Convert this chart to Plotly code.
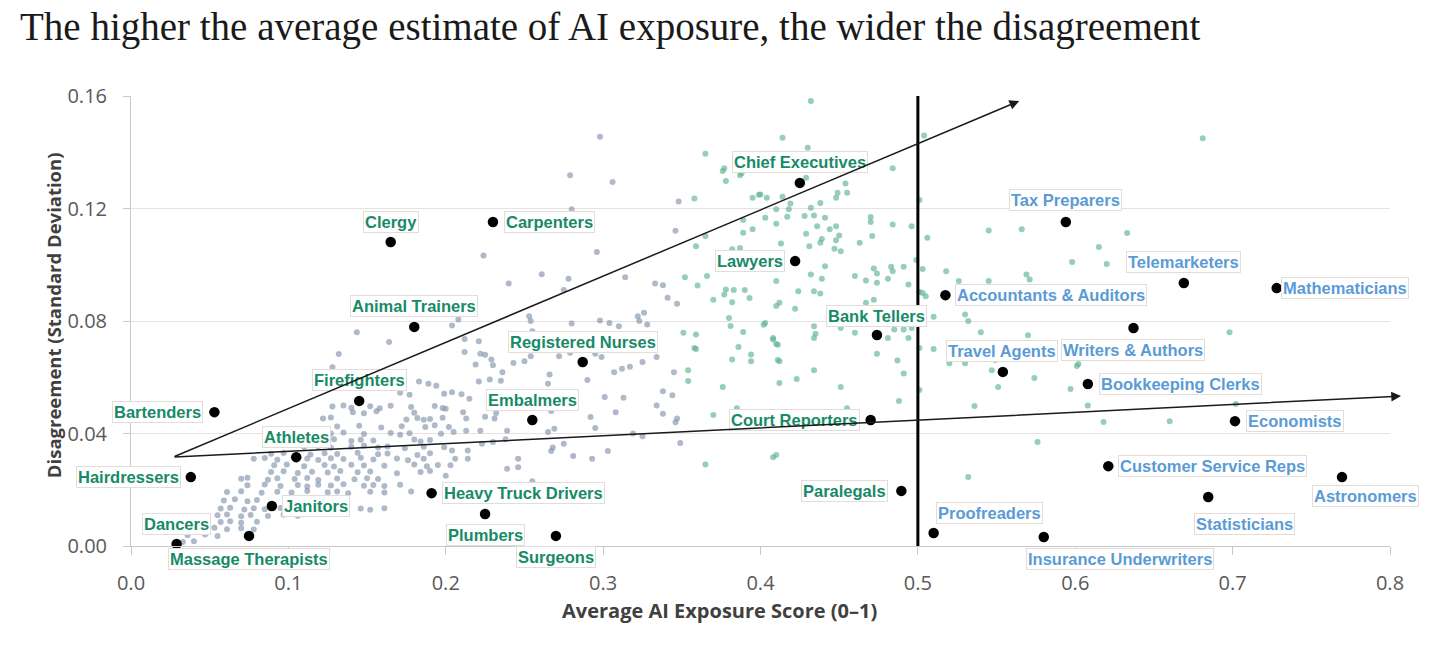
#!/usr/bin/env python3
# -*- coding: utf-8 -*-
"""AI exposure vs. disagreement scatter - plotly rebuild."""

import plotly.graph_objects as go

# === DATA ===
# occupations that get a black dot + label
occupations = [
    "Dancers", "Massage Therapists", "Hairdressers", "Janitors", "Athletes",
    "Bartenders", "Firefighters", "Animal Trainers", "Clergy", "Carpenters",
    "Heavy Truck Drivers", "Plumbers", "Surgeons", "Embalmers", "Registered Nurses",
    "Chief Executives", "Lawyers", "Bank Tellers", "Court Reporters", "Paralegals",
    "Proofreaders", "Insurance Underwriters", "Accountants & Auditors", "Tax Preparers",
    "Travel Agents", "Writers & Authors", "Telemarketers", "Mathematicians",
    "Bookkeeping Clerks", "Economists", "Customer Service Reps", "Statisticians",
    "Astronomers",
]
occ_exposure = [
    0.029, 0.075, 0.038, 0.0895, 0.105,
    0.053, 0.145, 0.180, 0.165, 0.230,
    0.191, 0.225, 0.270, 0.255, 0.287,
    0.425, 0.422, 0.474, 0.470, 0.4895,
    0.510, 0.580, 0.5175, 0.594,
    0.554, 0.637, 0.669, 0.728,
    0.608, 0.7015, 0.621, 0.6845,
    0.7695,
]
occ_disagreement = [
    0.0007, 0.0036, 0.0245, 0.0142, 0.0316,
    0.0476, 0.0516, 0.0779, 0.1081, 0.1152,
    0.0188, 0.0114, 0.0036, 0.0448, 0.0654,
    0.1291, 0.1013, 0.0750, 0.0448, 0.0196,
    0.0046, 0.0032, 0.0892, 0.1152,
    0.0619, 0.0775, 0.0935, 0.0917,
    0.0576, 0.0444, 0.0284, 0.0174,
    0.0245,
]

# all other occupations, low exposure group (x, y)
gray_points = [
    # x 0.0 - 0.2, y 0 - 0.06
    [0.183, 0.0585], [0.189, 0.0577], [0.194, 0.0570],
    [0.171, 0.0545], [0.177, 0.0538], [0.199, 0.0541],
    [0.128, 0.0496], [0.135, 0.0500], [0.140, 0.0492], [0.152, 0.0497], [0.158, 0.0490],
    [0.165, 0.0499], [0.178, 0.0494], [0.193, 0.0498], [0.198, 0.0491],
    [0.141, 0.0476], [0.148, 0.0472], [0.156, 0.0479], [0.180, 0.0474],
    [0.122, 0.0453], [0.127, 0.0457], [0.175, 0.0450], [0.182, 0.0455], [0.186, 0.0449],
    [0.190, 0.0452], [0.198, 0.0456],
    [0.131, 0.0425], [0.145, 0.0428], [0.159, 0.0421], [0.172, 0.0426], [0.187, 0.0423],
    [0.193, 0.0429],
    [0.127, 0.0400], [0.135, 0.0404], [0.148, 0.0398], [0.165, 0.0402], [0.171, 0.0396],
    [0.177, 0.0401], [0.197, 0.0399],
    [0.121, 0.0376], [0.129, 0.0380], [0.140, 0.0373], [0.146, 0.0378], [0.154, 0.0375],
    [0.180, 0.0379], [0.184, 0.0372], [0.190, 0.0377],
    [0.110, 0.0352], [0.119, 0.0355], [0.127, 0.0349], [0.140, 0.0353], [0.148, 0.0357],
    [0.157, 0.0350], [0.163, 0.0354], [0.174, 0.0348], [0.186, 0.0353], [0.199, 0.0351],
    [0.089, 0.0328], [0.097, 0.0331], [0.114, 0.0325], [0.123, 0.0330], [0.131, 0.0327],
    [0.144, 0.0332], [0.157, 0.0326], [0.163, 0.0329], [0.182, 0.0324], [0.190, 0.0330],
    [0.078, 0.0310], [0.085, 0.0313], [0.093, 0.0307], [0.112, 0.0311], [0.119, 0.0306],
    [0.127, 0.0312], [0.135, 0.0309], [0.146, 0.0314], [0.154, 0.0308], [0.169, 0.0311],
    [0.176, 0.0305], [0.186, 0.0310],
    [0.091, 0.0287], [0.099, 0.0290], [0.110, 0.0284], [0.123, 0.0288], [0.129, 0.0283],
    [0.140, 0.0289], [0.148, 0.0286], [0.161, 0.0285], [0.180, 0.0290], [0.188, 0.0284],
    [0.195, 0.0288],
    [0.089, 0.0263], [0.097, 0.0266], [0.106, 0.0260], [0.115, 0.0264], [0.125, 0.0261],
    [0.133, 0.0267], [0.144, 0.0262], [0.152, 0.0265], [0.169, 0.0259], [0.184, 0.0263],
    [0.190, 0.0267],
    [0.070, 0.0239], [0.074, 0.0243], [0.087, 0.0236], [0.093, 0.0241], [0.104, 0.0238],
    [0.112, 0.0242], [0.119, 0.0235], [0.131, 0.0240], [0.142, 0.0237], [0.150, 0.0241],
    [0.157, 0.0238],
    [0.074, 0.0216], [0.085, 0.0219], [0.095, 0.0213], [0.106, 0.0217], [0.112, 0.0212],
    [0.119, 0.0218], [0.127, 0.0215], [0.135, 0.0220], [0.148, 0.0214], [0.154, 0.0217],
    [0.161, 0.0213], [0.171, 0.0218],
    [0.061, 0.0192], [0.070, 0.0195], [0.083, 0.0189], [0.093, 0.0193], [0.102, 0.0190],
    [0.112, 0.0196], [0.125, 0.0191], [0.131, 0.0194], [0.138, 0.0188], [0.152, 0.0193],
    [0.161, 0.0190], [0.178, 0.0194],
    [0.059, 0.0162], [0.066, 0.0166], [0.074, 0.0159], [0.080, 0.0164], [0.102, 0.0161],
    [0.108, 0.0165], [0.116, 0.0160], [0.125, 0.0163], [0.135, 0.0158],
    [0.057, 0.0133], [0.063, 0.0136], [0.072, 0.0130], [0.078, 0.0134], [0.085, 0.0131],
    [0.095, 0.0135], [0.146, 0.0133], [0.152, 0.0129], [0.161, 0.0134],
    [0.055, 0.0109], [0.061, 0.0112], [0.070, 0.0106], [0.076, 0.0110], [0.087, 0.0107],
    [0.097, 0.0111], [0.106, 0.0108],
    [0.057, 0.0085], [0.063, 0.0088], [0.070, 0.0083], [0.080, 0.0086],
    [0.042, 0.0062], [0.053, 0.0065], [0.061, 0.0060], [0.070, 0.0063], [0.078, 0.0059],
    [0.036, 0.0038], [0.047, 0.0041], [0.055, 0.0036],
    [0.033, 0.0014], [0.040, 0.0017],
    # x 0.0 - 0.2, y above 0.06
    [0.1435, 0.0760], [0.164, 0.0725], [0.132, 0.0683], [0.128, 0.0636],
    # x 0.2 - 0.35, y 0 - 0.06
    [0.204, 0.0547], [0.210, 0.0540], [0.215, 0.0524], [0.200, 0.0488], [0.211, 0.0476],
    [0.213, 0.0453], [0.202, 0.0423], [0.205, 0.0405], [0.213, 0.0410], [0.222, 0.0410],
    [0.225, 0.0460], [0.231, 0.0453], [0.232, 0.0473], [0.239, 0.0410], [0.238, 0.0380],
    [0.230, 0.0370], [0.223, 0.0364], [0.204, 0.0340], [0.214, 0.0340], [0.206, 0.0310],
    [0.214, 0.0310], [0.203, 0.0287], [0.246, 0.0310], [0.246, 0.0280], [0.239, 0.0275],
    [0.200, 0.0250], [0.255, 0.0230], [0.265, 0.0405], [0.269, 0.0417], [0.268, 0.0350],
    [0.267, 0.0338], [0.275, 0.0364], [0.281, 0.0320], [0.293, 0.0310], [0.303, 0.0338],
    [0.292, 0.0459], [0.295, 0.0420], [0.301, 0.0530], [0.308, 0.0476], [0.313, 0.0527],
    [0.319, 0.0400], [0.325, 0.0390], [0.338, 0.0550], [0.344, 0.0536], [0.334, 0.0500],
    [0.338, 0.0470], [0.347, 0.0453], [0.346, 0.0440], [0.349, 0.0366], [0.265, 0.0577],
    [0.267, 0.0480], [0.290, 0.0590], [0.221, 0.0585], [0.228, 0.0592], [0.235, 0.0588],
    # x 0.2 - 0.35, y above 0.06
    [0.298, 0.1455], [0.279, 0.1318], [0.306, 0.1294], [0.280, 0.1197], [0.348, 0.1225],
    [0.346, 0.1121], [0.296, 0.1045], [0.224, 0.1033], [0.261, 0.0966], [0.278, 0.0950],
    [0.314, 0.0956], [0.240, 0.0933], [0.275, 0.0910], [0.333, 0.0933], [0.338, 0.0927],
    [0.341, 0.0883], [0.347, 0.0861], [0.204, 0.0784], [0.208, 0.0805], [0.253, 0.0817],
    [0.254, 0.0800], [0.280, 0.0791], [0.298, 0.0802], [0.304, 0.0793], [0.310, 0.0781],
    [0.322, 0.0817], [0.326, 0.0829], [0.323, 0.0800], [0.328, 0.0788], [0.255, 0.0764],
    [0.212, 0.0736], [0.221, 0.0728], [0.212, 0.0690], [0.222, 0.0684], [0.225, 0.0680],
    [0.229, 0.0663], [0.251, 0.0700], [0.254, 0.0675], [0.272, 0.0675], [0.279, 0.0687],
    [0.295, 0.0684], [0.299, 0.0672], [0.243, 0.0651], [0.250, 0.0657], [0.219, 0.0645],
    [0.230, 0.0643], [0.236, 0.0618], [0.266, 0.0610], [0.307, 0.0618], [0.312, 0.0630],
    [0.317, 0.0637], [0.325, 0.0654], [0.334, 0.0672], [0.325, 0.0700], [0.345, 0.0618],
]

# all other occupations, high exposure group (x, y)
green_points = [
    [0.365, 0.1395], [0.376, 0.1333], [0.377, 0.1343], [0.378, 0.1298], [0.387, 0.1318],
    [0.388, 0.1325], [0.358, 0.1236], [0.395, 0.1238], [0.399, 0.1249], [0.389, 0.1159],
    [0.395, 0.1126], [0.389, 0.1114], [0.359, 0.1066], [0.365, 0.1102], [0.382, 0.1055],
    [0.387, 0.1060], [0.352, 0.0956], [0.366, 0.0960], [0.360, 0.0926], [0.378, 0.0912],
    [0.383, 0.0910], [0.377, 0.0894], [0.390, 0.0910], [0.393, 0.0882], [0.370, 0.0876],
    [0.382, 0.0867], [0.380, 0.0811], [0.381, 0.0782], [0.389, 0.0761], [0.351, 0.0758],
    [0.359, 0.0752], [0.358, 0.0704], [0.359, 0.0700], [0.386, 0.0708], [0.382, 0.0663],
    [0.394, 0.0681], [0.394, 0.0657], [0.354, 0.0625], [0.403, 0.0793], [0.408, 0.0740],
    [0.410, 0.0718], [0.411, 0.0661],
    [0.432, 0.1582], [0.414, 0.1452], [0.430, 0.1416], [0.504, 0.1460], [0.484, 0.1343],
    [0.429, 0.1309], [0.454, 0.1289], [0.455, 0.1256], [0.449, 0.1256], [0.448, 0.1238],
    [0.400, 0.1250], [0.404, 0.1238], [0.414, 0.1242], [0.419, 0.1218], [0.410, 0.1197],
    [0.418, 0.1197], [0.432, 0.1203], [0.438, 0.1220], [0.501, 0.1230], [0.403, 0.1167],
    [0.417, 0.1171], [0.428, 0.1173], [0.434, 0.1175], [0.441, 0.1167], [0.410, 0.1146],
    [0.436, 0.1137], [0.444, 0.1126], [0.448, 0.1137], [0.470, 0.1170], [0.470, 0.1152],
    [0.484, 0.1143], [0.496, 0.1137], [0.429, 0.1110], [0.439, 0.1092], [0.450, 0.1104],
    [0.448, 0.1087], [0.471, 0.1102], [0.506, 0.1096], [0.413, 0.1076], [0.431, 0.1066],
    [0.438, 0.1078], [0.447, 0.1057], [0.451, 0.1048], [0.463, 0.1078], [0.441, 0.0995],
    [0.432, 0.0965], [0.472, 0.0987], [0.474, 0.0969], [0.483, 0.0993], [0.484, 0.0977],
    [0.491, 0.0993], [0.503, 0.0985], [0.410, 0.0942], [0.424, 0.0906], [0.434, 0.0906],
    [0.438, 0.0898], [0.439, 0.0950], [0.460, 0.0960], [0.467, 0.0944], [0.474, 0.0936],
    [0.481, 0.0950], [0.494, 0.0930], [0.503, 0.0900], [0.505, 0.0888], [0.410, 0.0853],
    [0.412, 0.0865], [0.422, 0.0844], [0.467, 0.0865], [0.472, 0.0876], [0.518, 0.0977],
    [0.526, 0.0942], [0.545, 0.0942], [0.569, 0.0965], [0.571, 0.0948], [0.545, 0.1122],
    [0.566, 0.1126], [0.530, 0.0823], [0.532, 0.0800], [0.540, 0.0760], [0.570, 0.0749],
    [0.510, 0.0815], [0.402, 0.0787], [0.434, 0.0781], [0.435, 0.0755], [0.434, 0.0740],
    [0.451, 0.0775], [0.460, 0.0758], [0.408, 0.0734], [0.411, 0.0716], [0.481, 0.0740],
    [0.485, 0.0770], [0.491, 0.0770], [0.494, 0.0740], [0.474, 0.0684], [0.487, 0.0660],
    [0.412, 0.0657], [0.434, 0.0625], [0.491, 0.0613], [0.501, 0.0704], [0.510, 0.0700],
    [0.520, 0.0650], [0.530, 0.0650], [0.547, 0.0625], [0.549, 0.0661], [0.496, 0.0775],
    [0.681, 0.1450], [0.633, 0.1113], [0.615, 0.1063], [0.598, 0.1010], [0.620, 0.1003],
    [0.499, 0.1017], [0.501, 0.0903], [0.698, 0.0760], [0.602, 0.0647], [0.601, 0.0640],
    [0.574, 0.0597], [0.551, 0.0565], [0.597, 0.0558], [0.488, 0.0516], [0.536, 0.0498],
    [0.608, 0.0500], [0.702, 0.0505], [0.618, 0.0441], [0.660, 0.0444], [0.576, 0.0370],
    [0.532, 0.0245],
    [0.354, 0.0587], [0.376, 0.0565], [0.412, 0.0580], [0.423, 0.0594], [0.451, 0.0565],
    [0.501, 0.0555], [0.455, 0.0490], [0.385, 0.0490], [0.370, 0.0466], [0.408, 0.0316],
    [0.410, 0.0324], [0.365, 0.0290],
]

# trend arrows: (start x, start y, end x, end y)
arrow_upper = [0.0267, 0.0316, 0.5644, 0.1582]
arrow_lower = [0.0267, 0.0316, 0.807, 0.0533]
threshold = 0.5

# === STYLE ===
GREEN_TXT = "#178a68"
BLUE_TXT = "#5b9bd5"
GRAY_DOT = "rgba(125,143,168,0.62)"
GREEN_DOT = "rgba(95,180,145,0.65)"
LABEL_FONT = "Liberation Sans, Arial, sans-serif"
TICK_FONT = "Open Sans, Liberation Sans, sans-serif"
AXIS_TITLE_COLOR = "#404040"

# label placement: (anchor, x shift px, y shift px downwards)
label_pos = {
    "Dancers": ("center", 0, -20),
    "Massage Therapists": ("center", 0, 23),
    "Hairdressers": ("right", -10, 0),
    "Janitors": ("left", 10, 0),
    "Athletes": ("center", 0, -20),
    "Bartenders": ("right", -11, 0),
    "Firefighters": ("center", 0, -21),
    "Animal Trainers": ("center", 0, -21),
    "Clergy": ("center", 0, -20),
    "Carpenters": ("left", 11, 0),
    "Heavy Truck Drivers": ("left", 10, 0),
    "Plumbers": ("center", 0, 21),
    "Surgeons": ("center", 0, 21),
    "Embalmers": ("center", 0, -20),
    "Registered Nurses": ("center", 0, -20),
    "Chief Executives": ("center", 0, -21),
    "Lawyers": ("right", -10, 0),
    "Bank Tellers": ("center", 0, -19),
    "Court Reporters": ("right", -11, 0),
    "Paralegals": ("right", -13, 0),
    "Proofreaders": ("center", 56, -20),
    "Insurance Underwriters": ("center", 76, 22),
    "Accountants & Auditors": ("left", 10, 0),
    "Tax Preparers": ("center", 0, -22),
    "Travel Agents": ("center", -1, -21),
    "Writers & Authors": ("center", 0, 22),
    "Telemarketers": ("center", 0, -21),
    "Mathematicians": ("left", 4, 0),
    "Bookkeeping Clerks": ("left", 11, 0),
    "Economists": ("left", 11, 0),
    "Customer Service Reps": ("left", 10, 0),
    "Statisticians": ("center", 36, 27),
    "Astronomers": ("center", 23, 19),
}


def main():
    fig = go.Figure()

    fig.add_trace(go.Scatter(
        x=[p[0] for p in gray_points], y=[p[1] for p in gray_points],
        mode="markers", marker=dict(size=6, color=GRAY_DOT, line=dict(width=0)),
        hoverinfo="skip", showlegend=False,
    ))
    fig.add_trace(go.Scatter(
        x=[p[0] for p in green_points], y=[p[1] for p in green_points],
        mode="markers", marker=dict(size=6, color=GREEN_DOT, line=dict(width=0)),
        hoverinfo="skip", showlegend=False,
    ))

    # threshold line
    fig.add_shape(type="line", x0=threshold, x1=threshold, y0=0, y1=0.16,
                  xref="x", yref="y", line=dict(color="black", width=3), layer="above")

    fig.add_trace(go.Scatter(
        x=occ_exposure, y=occ_disagreement, text=occupations,
        mode="markers", marker=dict(size=10.5, color="black"),
        cliponaxis=False, showlegend=False,
        hovertemplate="%{text}<br>%{x:.2f}, %{y:.3f}<extra></extra>",
    ))

    # labels first, arrows afterwards so the arrows sit on top like in the original
    for name, xv, yv in zip(occupations, occ_exposure, occ_disagreement):
        anchor, dx, dy = label_pos[name]
        fig.add_annotation(
            x=xv, y=yv, xref="x", yref="y", text=f"<b>{name}</b>",
            showarrow=False, xanchor=anchor, yanchor="middle",
            xshift=dx, yshift=-dy,
            font=dict(family=LABEL_FONT, size=16.5,
                      color=BLUE_TXT if xv > threshold else GREEN_TXT),
            bgcolor="white", bordercolor="#e2ddd8", borderwidth=1, borderpad=1,
        )

    for arr in (arrow_upper, arrow_lower):
        fig.add_annotation(
            x=arr[2], y=arr[3], ax=arr[0], ay=arr[1],
            xref="x", yref="y", axref="x", ayref="y",
            text="", showarrow=True, arrowhead=2, arrowsize=1.3,
            arrowwidth=1.5, arrowcolor="#1a1a1a",
        )

    # axis titles as annotations (x title sits left of centre in the original)
    fig.add_annotation(
        x=0.374, y=0, xref="x", yref="paper", yshift=-64,
        text="<b>Average AI Exposure Score (0\u20131)</b>", showarrow=False,
        xanchor="center", yanchor="middle",
        font=dict(family=TICK_FONT, size=20, color=AXIS_TITLE_COLOR),
    )
    fig.add_annotation(
        x=0, y=0.513, xref="paper", yref="paper", xshift=-78,
        text="<b>Disagreement (Standard Deviation)</b>", showarrow=False,
        textangle=-90, xanchor="center", yanchor="middle",
        font=dict(family=TICK_FONT, size=18.5, color=AXIS_TITLE_COLOR),
    )

    fig.update_layout(
        title=dict(
            text="The higher the average estimate of AI exposure, the wider the disagreement",
            x=12 / 1423, xref="container", xanchor="left",
            y=1 - 18 / 635, yref="container", yanchor="middle",
            font=dict(family="Liberation Serif, Times New Roman, serif", size=39, color="#1a1a1a"),
        ),
        template="plotly_white",
        plot_bgcolor="white",
        paper_bgcolor="white",
        # page body has an 8px margin, so these land the plot at 131..1390 x 96..546
        margin=dict(l=123, r=41, t=88, b=97),
        showlegend=False,
        xaxis=dict(
            range=[0, 0.8], dtick=0.1, tickformat=".1f",
            showgrid=False, zeroline=False,
            showline=True, linecolor="#c8c8c8", linewidth=1,
            ticks="outside", ticklen=8, tickcolor="#c8c8c8",
            ticklabelstandoff=11,
            tickfont=dict(family=TICK_FONT, size=20, color="#595959"),
        ),
        yaxis=dict(
            range=[0, 0.16], dtick=0.04, tickformat=".2f",
            showgrid=True, gridcolor="#e6e2de", gridwidth=1, zeroline=False,
            showline=True, linecolor="#c8c8c8", linewidth=1,
            ticks="outside", ticklen=7, tickcolor="#c8c8c8",
            ticklabelstandoff=12,
            tickfont=dict(family=TICK_FONT, size=20, color="#595959"),
        ),
    )

    fig.write_html("out.html")
    print("[OK] out.html written")


if __name__ == "__main__":
    main()
